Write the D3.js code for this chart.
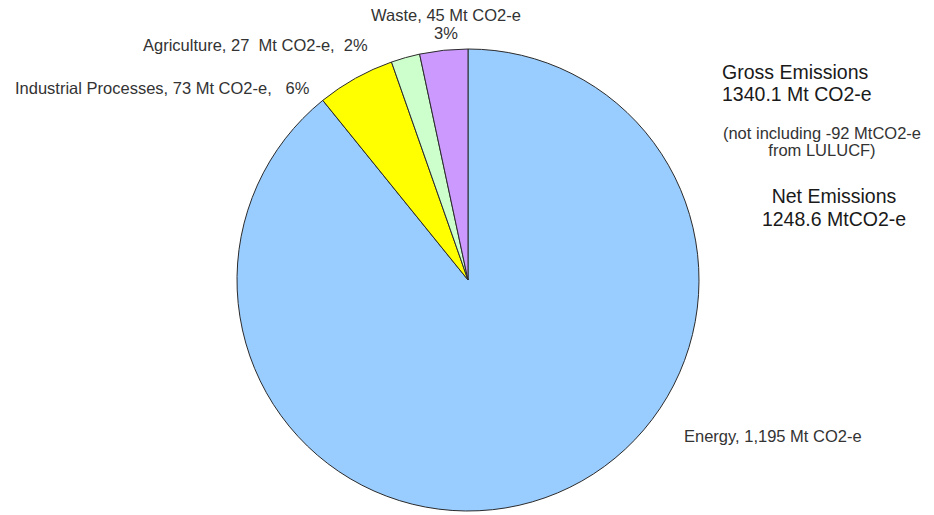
<!DOCTYPE html>
<html>
<head>
<meta charset="utf-8">
<script src="https://cdn.jsdelivr.net/npm/d3@7"></script>
<style>
  body { margin: 0; background: #fff; }
  text { font-family: "Liberation Sans", Arial, sans-serif; white-space: pre; }
</style>
</head>
<body>
<svg id="chart" width="934" height="515"></svg>
<script>
// sector data
var sectors = ['Energy', 'Industrial Processes', 'Agriculture', 'Waste'];
var emissions = [1195, 73, 27, 45];
var colours = ['#99ccff', '#ffff00', '#ccffcc', '#cc99ff'];

var sliceLabels = [
    ['Energy, 1,195 Mt CO2-e'],
    ['Industrial Processes, 73 Mt CO2-e,   6%'],
    ['Agriculture, 27  Mt CO2-e,  2%'],
    ['Waste, 45 Mt CO2-e', '3%']
];

var svg = d3.select('#chart');

var cx = 468, cy = 280, radius = 231;

var pie = d3.pie().sort(null).value(function (d) { return d; });
var arc = d3.arc().innerRadius(0).outerRadius(radius);

var g = svg.append('g').attr('transform', 'translate(' + cx + ',' + cy + ')');

g.selectAll('path').data(pie(emissions))
    .enter().append('path')
    .attr('d', arc)
    .attr('fill', function (d, i) { return colours[i]; })
    .attr('stroke', '#2b2b2b')
    .attr('stroke-width', 1);

// label anchors (left edge / baseline) next to each slice
var labelPos = [
    {x: 684, y: 442, anchor: 'start'},
    {x: 15, y: 94, anchor: 'start'},
    {x: 143, y: 51, anchor: 'start'},
    {x: 446, y: 21, anchor: 'middle'}
];

sliceLabels.forEach(function (lines, i) {
    var t = svg.append('text')
        .attr('x', labelPos[i].x)
        .attr('y', labelPos[i].y)
        .attr('text-anchor', labelPos[i].anchor)
        .attr('font-size', 16.5)
        .attr('fill', '#333');
    lines.forEach(function (line, j) {
        t.append('tspan')
            .attr('x', labelPos[i].x)
            .attr('dy', j === 0 ? 0 : 18)
            .text(line);
    });
});

// totals block
var notes = [
    {text: 'Gross Emissions', x: 722, y: 79, size: 19.5, anchor: 'start', fill: '#1a1a1a'},
    {text: '1340.1 Mt CO2-e', x: 722, y: 101, size: 19.5, anchor: 'start', fill: '#1a1a1a'},
    {text: '(not including -92 MtCO2-e', x: 822, y: 139, size: 16.5, anchor: 'middle', fill: '#333'},
    {text: 'from LULUCF)', x: 822, y: 156, size: 16.5, anchor: 'middle', fill: '#333'},
    {text: 'Net Emissions', x: 834, y: 203, size: 19.5, anchor: 'middle', fill: '#1a1a1a'},
    {text: '1248.6 MtCO2-e', x: 834, y: 226, size: 19.5, anchor: 'middle', fill: '#1a1a1a'}
];

svg.selectAll('text.note').data(notes)
    .enter().append('text')
    .attr('class', 'note')
    .attr('x', function (d) { return d.x; })
    .attr('y', function (d) { return d.y; })
    .attr('text-anchor', function (d) { return d.anchor; })
    .attr('font-size', function (d) { return d.size; })
    .attr('fill', function (d) { return d.fill; })
    .text(function (d) { return d.text; });
</script>
</body>
</html>
